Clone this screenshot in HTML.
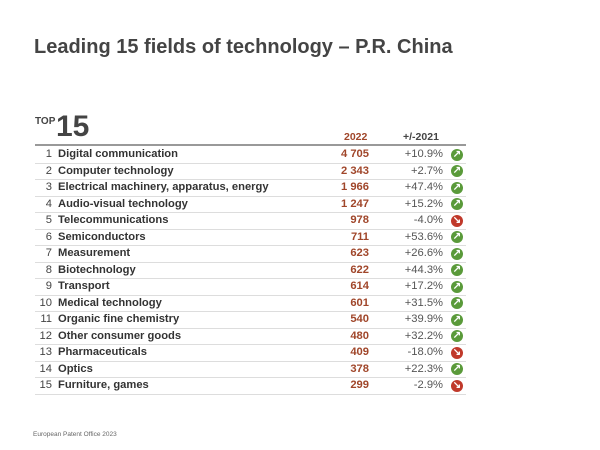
<!DOCTYPE html>
<html><head><style>
body{margin:0;width:600px;height:450px;background:#fff;font-family:"Liberation Sans",sans-serif;position:relative;overflow:hidden;color:#333}
.a{position:absolute;white-space:nowrap}
.t{left:34px;top:36px;font-size:20px;font-weight:bold;color:#444}
.row{position:absolute;left:35px;width:431px;height:16.5px;border-bottom:1px solid #ddd;font-size:11.2px;line-height:16.5px}
.row .r{position:absolute;left:0;width:17px;text-align:right;color:#444}
.l{position:absolute;left:23px;font-weight:bold;color:#333}
.n{position:absolute;right:97px;color:#a0462a;font-weight:bold}
.p{position:absolute;right:23px;color:#555}
.i{position:absolute;left:416px;top:2.5px;width:12px;height:12px;border-radius:50%;color:#fff;font-size:10px;line-height:12px;text-align:center;font-weight:bold}
.u{background:#5a9a3a}.d{background:#c0392b}
</style></head><body>
<div class="a t">Leading 15 fields of technology – P.R. China</div>
<div class="a" style="left:35px;top:116px;font-size:10px;font-weight:bold;color:#444">TOP</div>
<div class="a" style="left:56px;top:111px;font-size:30px;font-weight:bold;color:#444;line-height:32px">15</div>
<div class="a" style="left:344px;top:131px;font-size:10.5px;font-weight:bold;color:#a0462a">2022</div>
<div class="a" style="left:403px;top:131px;font-size:10.5px;font-weight:bold;color:#444">+/-2021</div>
<div class="a" style="left:35px;top:144px;width:431px;height:2px;background:#999"></div>
<div id="t"></div>
<div class="a" style="left:33px;top:431px;font-size:6.5px;color:#666">European Patent Office 2023</div>
<script>
var d=[["Digital communication","4 705","+10.9%",1],["Computer technology","2 343","+2.7%",1],["Electrical machinery, apparatus, energy","1 966","+47.4%",1],["Audio-visual technology","1 247","+15.2%",1],["Telecommunications","978","-4.0%",0],["Semiconductors","711","+53.6%",1],["Measurement","623","+26.6%",1],["Biotechnology","622","+44.3%",1],["Transport","614","+17.2%",1],["Medical technology","601","+31.5%",1],["Organic fine chemistry","540","+39.9%",1],["Other consumer goods","480","+32.2%",1],["Pharmaceuticals","409","-18.0%",0],["Optics","378","+22.3%",1],["Furniture, games","299","-2.9%",0]];
var h="";d.forEach(function(r,k){h+='<div class="row" style="top:'+(146+k*16.5)+'px"><span class="r">'+(k+1)+'</span><span class="l">'+r[0]+'</span><span class="n">'+r[1]+'</span><span class="p">'+r[2]+'</span><span class="i '+(r[3]?'u':'d')+'">'+(r[3]?'↗':'↘')+'</span></div>'});
document.getElementById("t").innerHTML=h;
</script>
</body></html>
